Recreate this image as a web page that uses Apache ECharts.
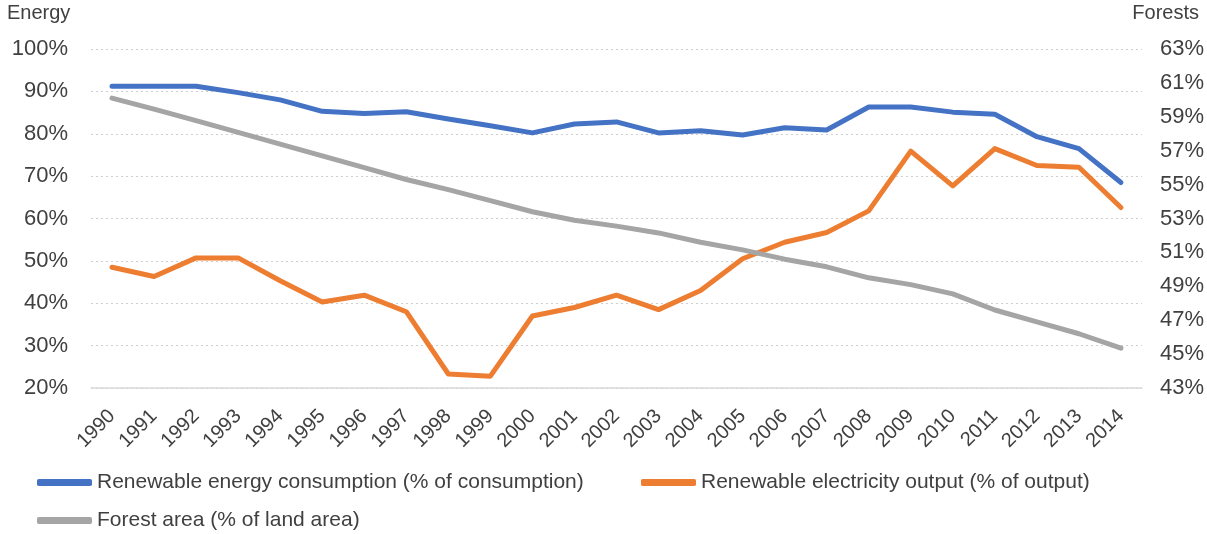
<!DOCTYPE html>
<html>
<head>
<meta charset="utf-8">
<style>
  html, body { margin: 0; padding: 0; background: #ffffff; }
  #chart { width: 1207px; height: 534px; }
</style>
<script src="https://cdn.jsdelivr.net/npm/echarts@6/dist/echarts.min.js"></script>
</head>
<body>
<div id="chart"></div>
<script>
// Years on the category axis
const years = ['1990','1991','1992','1993','1994','1995','1996','1997','1998','1999','2000','2001','2002',
               '2003','2004','2005','2006','2007','2008','2009','2010','2011','2012','2013','2014'];

// Renewable energy consumption (% of total consumption) — left axis
const energyConsumption = [91.2, 91.2, 91.2, 89.7, 88.0, 85.3, 84.8, 85.2, 83.5, 81.9, 80.2, 82.3, 82.8,
                           80.2, 80.7, 79.7, 81.4, 80.9, 86.3, 86.3, 85.1, 84.6, 79.3, 76.5, 68.5];

// Renewable electricity output (% of total output) — left axis
const electricityOutput = [48.5, 46.3, 50.7, 50.7, 45.3, 40.3, 41.9, 38.0, 23.3, 22.8, 37.0, 39.0, 41.9,
                           38.5, 43.0, 50.5, 54.4, 56.7, 61.8, 75.9, 67.7, 76.5, 72.5, 72.1, 62.6];

// Forest area (% of land area) — right axis
const forestArea = [60.1, 59.45, 58.77, 58.08, 57.39, 56.7, 56.0, 55.3, 54.7, 54.05, 53.4, 52.9, 52.55,
                    52.15, 51.6, 51.15, 50.6, 50.15, 49.5, 49.1, 48.55, 47.6, 46.9, 46.2, 45.35];

// Tick values for the two value axes
const energyTicks = [20, 30, 40, 50, 60, 70, 80, 90, 100];
const forestTicks = [43, 45, 47, 49, 51, 53, 55, 57, 59, 61, 63];

const seriesNames = [
  'Renewable energy consumption (% of consumption)',
  'Renewable electricity output (% of output)',
  'Forest area (% of land area)'
];
const colors = ['#4472C4', '#ED7D31', '#A5A5A5'];

const FONT = '"Liberation Sans", Arial, sans-serif';
const TEXT = '#404040';

const legendCommon = {
  icon: 'roundRect',
  itemWidth: 55,
  itemHeight: 7,
  itemGap: 10,
  selectedMode: false,
  textStyle: { fontFamily: FONT, fontSize: 21, color: TEXT }
};

const chart = echarts.init(document.getElementById('chart'), null, { renderer: 'canvas' });

chart.setOption({
  animation: false,
  color: colors,
  textStyle: { fontFamily: FONT },
  grid: { left: 91, right: 64, top: 49, bottom: 146, containLabel: false },
  graphic: [
    { type: 'text', left: 7, top: 3,
      style: { text: 'Energy', fontFamily: FONT, fontSize: 20, fill: TEXT } },
    { type: 'text', right: 8, top: 3,
      style: { text: 'Forests', fontFamily: FONT, fontSize: 20, fill: TEXT } }
  ],
  legend: [
    Object.assign({ data: [seriesNames[0]], left: 32, top: 467 }, legendCommon),
    Object.assign({ data: [seriesNames[1]], left: 636, top: 467 }, legendCommon),
    Object.assign({ data: [seriesNames[2]], left: 32, top: 505 }, legendCommon)
  ],
  xAxis: {
    type: 'category',
    data: years,
    boundaryGap: true,
    axisLine: { show: true, lineStyle: { color: '#d9d9d9', width: 1.5 } },
    axisTick: { show: false },
    axisLabel: {
      rotate: 45,
      margin: 25,
      interval: 0,
      fontFamily: FONT,
      fontSize: 20,
      color: TEXT
    },
    splitLine: { show: false }
  },
  yAxis: [
    {
      type: 'value',
      min: energyTicks[0],
      max: energyTicks[energyTicks.length - 1],
      interval: 10,
      position: 'left',
      axisLine: { show: false },
      axisTick: { show: false },
      axisLabel: {
        margin: 23,
        fontFamily: FONT,
        fontSize: 22,
        color: TEXT,
        formatter: '{value}%'
      },
      splitLine: { show: true, lineStyle: { color: '#cfcfcf', type: [2, 3], width: 1 } }
    },
    {
      type: 'value',
      min: forestTicks[0],
      max: forestTicks[forestTicks.length - 1],
      position: 'right',
      axisLine: { show: false },
      axisTick: { show: false },
      axisLabel: {
        customValues: forestTicks,
        margin: 18,
        fontFamily: FONT,
        fontSize: 22,
        color: TEXT,
        formatter: '{value}%'
      },
      splitLine: { show: false }
    }
  ],
  series: [
    {
      name: seriesNames[0], type: 'line', yAxisIndex: 0, data: energyConsumption,
      showSymbol: false, symbol: 'none',
      lineStyle: { width: 5, color: colors[0], cap: 'round', join: 'round' },
      itemStyle: { color: colors[0] }
    },
    {
      name: seriesNames[1], type: 'line', yAxisIndex: 0, data: electricityOutput,
      showSymbol: false, symbol: 'none',
      lineStyle: { width: 5, color: colors[1], cap: 'round', join: 'round' },
      itemStyle: { color: colors[1] }
    },
    {
      name: seriesNames[2], type: 'line', yAxisIndex: 1, data: forestArea,
      showSymbol: false, symbol: 'none',
      lineStyle: { width: 5, color: colors[2], cap: 'round', join: 'round' },
      itemStyle: { color: colors[2] }
    }
  ]
});
</script>
</body>
</html>
